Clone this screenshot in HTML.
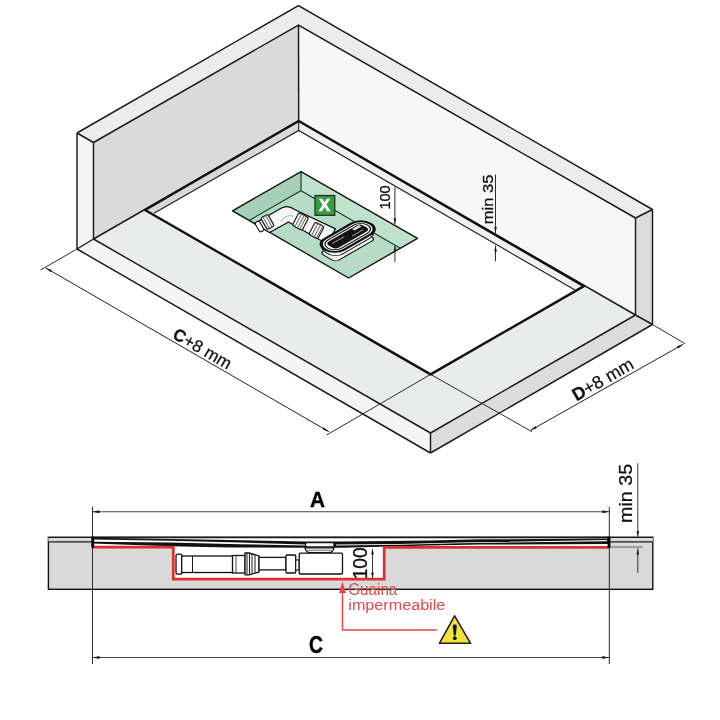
<!DOCTYPE html>
<html><head><meta charset="utf-8"><style>
html,body{margin:0;padding:0;background:#fff;}
svg{display:block;will-change:transform;}
text{font-family:"Liberation Sans",sans-serif;}
</style></head><body>
<svg width="720" height="720" viewBox="0 0 720 720">
<rect width="720" height="720" fill="#fff"/>
<polygon points="77.00,133.00 298.50,5.50 652.50,209.50 635.50,218.00 298.50,25.00 93.50,142.50" fill="#ececec" stroke="none" stroke-width="1" stroke-linejoin="round" />
<polygon points="93.50,142.50 298.50,25.00 298.70,121.00 93.50,239.00" fill="#dadada" stroke="none" stroke-width="1" stroke-linejoin="round" />
<polygon points="298.50,25.00 635.50,218.00 635.50,315.00 298.70,121.00" fill="#f7f7f7" stroke="none" stroke-width="1" stroke-linejoin="round" />
<polygon points="77.00,133.00 93.50,142.50 93.50,239.00 77.00,249.00" fill="#f5f5f5" stroke="none" stroke-width="1" stroke-linejoin="round" />
<polygon points="635.50,218.00 652.50,209.50 652.50,324.50 635.50,315.00" fill="#dcdcdc" stroke="none" stroke-width="1" stroke-linejoin="round" />
<polygon points="93.50,239.00 298.70,121.00 635.50,315.00 430.50,433.00" fill="#eaeceb" stroke="none" stroke-width="1" stroke-linejoin="round" />
<polygon points="77.00,249.00 93.50,239.00 430.50,433.00 430.50,453.00" fill="#f5f5f5" stroke="none" stroke-width="1" stroke-linejoin="round" />
<polygon points="635.50,315.00 652.50,324.50 430.50,453.00 430.50,433.00" fill="#dcdcdc" stroke="none" stroke-width="1" stroke-linejoin="round" />
<polyline points="77.00,133.00 298.50,5.50 652.50,209.50" fill="none" stroke="#1a1a1a" stroke-width="1.45" stroke-linejoin="miter" />
<polyline points="93.50,142.50 298.50,25.00 635.50,218.00" fill="none" stroke="#1a1a1a" stroke-width="1.45" stroke-linejoin="miter" />
<line x1="77.00" y1="133.00" x2="93.50" y2="142.50" stroke="#1a1a1a" stroke-width="1.45" />
<line x1="652.50" y1="209.50" x2="635.50" y2="218.00" stroke="#1a1a1a" stroke-width="1.45" />
<line x1="77.00" y1="133.00" x2="77.00" y2="249.00" stroke="#1a1a1a" stroke-width="1.45" />
<line x1="93.50" y1="142.50" x2="93.50" y2="239.00" stroke="#1a1a1a" stroke-width="1.45" />
<line x1="298.50" y1="25.00" x2="298.70" y2="121.00" stroke="#1a1a1a" stroke-width="1.45" />
<line x1="635.50" y1="218.00" x2="635.50" y2="315.00" stroke="#1a1a1a" stroke-width="1.45" />
<line x1="652.50" y1="209.50" x2="652.50" y2="324.50" stroke="#1a1a1a" stroke-width="1.45" />
<line x1="77.00" y1="249.00" x2="93.50" y2="239.00" stroke="#1a1a1a" stroke-width="1.45" />
<line x1="635.50" y1="315.00" x2="652.50" y2="324.50" stroke="#1a1a1a" stroke-width="1.45" />
<line x1="77.00" y1="249.00" x2="430.50" y2="453.00" stroke="#1a1a1a" stroke-width="1.45" />
<line x1="93.50" y1="239.00" x2="430.50" y2="433.00" stroke="#1a1a1a" stroke-width="1.45" />
<line x1="652.50" y1="324.50" x2="430.50" y2="453.00" stroke="#1a1a1a" stroke-width="1.45" />
<line x1="635.50" y1="315.00" x2="430.50" y2="433.00" stroke="#1a1a1a" stroke-width="1.45" />
<line x1="430.50" y1="433.00" x2="430.50" y2="453.00" stroke="#1a1a1a" stroke-width="1.45" />
<line x1="93.50" y1="239.00" x2="298.70" y2="121.00" stroke="#1a1a1a" stroke-width="1.45" />
<line x1="298.70" y1="121.00" x2="635.50" y2="315.00" stroke="#1a1a1a" stroke-width="1.45" />
<polygon points="145.00,210.00 298.70,121.00 583.90,286.10 430.60,374.40" fill="#ffffff" stroke="none" stroke-width="1" stroke-linejoin="round" />
<polygon points="145.00,210.00 298.70,121.00 298.70,130.50 154.00,213.30" fill="#d8d8d8" stroke="none" stroke-width="1" stroke-linejoin="round" />
<polygon points="298.70,121.00 583.90,286.10 575.00,290.00 298.70,130.50" fill="#f0f0f0" stroke="none" stroke-width="1" stroke-linejoin="round" />
<polyline points="154.00,213.30 298.70,130.50 575.00,290.00" fill="none" stroke="#1a1a1a" stroke-width="1.1" stroke-linejoin="miter" />
<line x1="298.70" y1="121.00" x2="298.70" y2="130.50" stroke="#1a1a1a" stroke-width="1.1" />
<polygon points="145.00,210.00 298.70,121.00 583.90,286.10 430.60,374.40" fill="none" stroke="#111" stroke-width="2.4" stroke-linejoin="round" />
<polygon points="249.30,220.40 301.00,190.70 400.30,248.30 348.60,278.00" fill="#b6dcc6" stroke="none" stroke-width="1" stroke-linejoin="round" />
<polygon points="232.50,210.80 301.00,171.70 301.00,190.70 249.30,220.40" fill="#a6d0b7" stroke="none" stroke-width="1" stroke-linejoin="round" />
<polygon points="301.00,171.70 417.50,238.30 400.30,248.30 301.00,190.70" fill="#bfe2cd" stroke="none" stroke-width="1" stroke-linejoin="round" />
<polyline points="249.30,220.40 301.00,190.70 400.30,248.30" fill="none" stroke="#1f3a2a" stroke-width="1.1" stroke-linejoin="miter" />
<line x1="301.00" y1="171.70" x2="301.00" y2="190.70" stroke="#3a6a4f" stroke-width="1.6" />
<polygon points="232.50,210.80 301.00,171.70 417.50,238.30 348.60,278.00" fill="none" stroke="#111" stroke-width="1.4" stroke-linejoin="round" />
<path d="M254.5,223.5 L281,208.3 Q288,204.6 294.5,209.5 L335.5,228.8 L327,244 L288.5,222 L269.5,232.5 Z" fill="#f6f6f6" stroke="#111" stroke-width="1.3" stroke-linejoin="round"/>
<path d="M281,221.5 Q286,214 293,216" fill="none" stroke="#999" stroke-width="0.8"/>
<g transform="translate(259.5,226.5) rotate(-29.87282104599585)"><rect x="-2.5" y="-5.5" width="5" height="11" rx="2" fill="#f8f8f8" stroke="#111" stroke-width="1.1"/></g>
<g transform="translate(267.5,222) rotate(-29.87282104599585)"><rect x="-4.0" y="-6.75" width="8" height="13.5" rx="2" fill="#f8f8f8" stroke="#111" stroke-width="1.1"/><line x1="-1.5" y1="-6.25" x2="-1.5" y2="6.25" stroke="#444" stroke-width="0.8"/><line x1="1.5" y1="-6.25" x2="1.5" y2="6.25" stroke="#444" stroke-width="0.8"/></g>
<g transform="translate(300.5,221.5) rotate(27.84662218283736)"><rect x="-5.5" y="-7.25" width="11" height="14.5" rx="2" fill="#f8f8f8" stroke="#111" stroke-width="1.1"/><line x1="-2.5" y1="-6.75" x2="-2.5" y2="6.75" stroke="#444" stroke-width="0.8"/><line x1="0.5" y1="-6.75" x2="0.5" y2="6.75" stroke="#444" stroke-width="0.8"/><line x1="3" y1="-6.75" x2="3" y2="6.75" stroke="#444" stroke-width="0.8"/></g>
<g transform="translate(316.5,230.5) rotate(27.84662218283736)"><rect x="-5.0" y="-7.0" width="10" height="14" rx="2" fill="#f8f8f8" stroke="#111" stroke-width="1.1"/><line x1="-2" y1="-6.5" x2="-2" y2="6.5" stroke="#444" stroke-width="0.8"/><line x1="1" y1="-6.5" x2="1" y2="6.5" stroke="#444" stroke-width="0.8"/><line x1="3.5" y1="-6.5" x2="3.5" y2="6.5" stroke="#444" stroke-width="0.8"/></g>
<g transform="translate(347.7,246) matrix(0.866,-0.5,0.866,0.5,0,0)">
<rect x="-23.0" y="-9.0" width="46" height="18" rx="4" fill="#f0f0f0" stroke="#111" stroke-width="1.3" />
</g>
<g transform="translate(347.7,241) matrix(0.866,-0.5,0.866,0.5,0,0)">
<rect x="-24.0" y="-10.0" width="48" height="20" rx="8" fill="#f6f6f6" stroke="#111" stroke-width="1.2" />
</g>
<g transform="translate(347.7,236.6) matrix(0.866,-0.5,0.866,0.5,0,0)">
<rect x="-26.0" y="-11.0" width="52" height="22" rx="11" fill="#f7f7f7" stroke="#111" stroke-width="2.7" />
<rect x="-23.0" y="-8.0" width="46" height="16" rx="8" fill="#fff" stroke="#111" stroke-width="1.1" />
<rect x="-20.0" y="-6.0" width="40" height="12" rx="4" fill="#141414" stroke="none" stroke-width="0" />
<line x1="-16" y1="-2" x2="-2" y2="-2" stroke="#bbb" stroke-width="0.8"/>
<line x1="3" y1="2" x2="16" y2="2" stroke="#bbb" stroke-width="0.8"/>
<rect x="10" y="-5" width="8" height="3" fill="#ddd"/>
</g>
<rect x="315" y="195.5" width="19.8" height="19.8" fill="#3a9a48" stroke="#14301a" stroke-width="1.2"/>
<text x="324.4" y="211" font-family="Liberation Sans" font-weight="bold" font-size="16.5" fill="#fff" stroke="#fff" stroke-width="0.6" text-anchor="middle">X</text>
<line x1="394.90" y1="187.20" x2="394.90" y2="224.20" stroke="#222" stroke-width="0.95" />
<polygon points="394.90,224.20 393.60,218.20 396.20,218.20" fill="#1a1a1a" stroke="none" stroke-width="1" stroke-linejoin="round" />
<line x1="394.90" y1="245.60" x2="394.90" y2="262.10" stroke="#222" stroke-width="0.95" />
<polygon points="394.90,245.60 396.20,251.60 393.60,251.60" fill="#1a1a1a" stroke="none" stroke-width="1" stroke-linejoin="round" />
<text transform="translate(390.4,209.6) rotate(-90)" font-family="Liberation Sans" font-size="15.5" fill="#111" stroke="#111" stroke-width="0.3" textLength="24.3" lengthAdjust="spacingAndGlyphs">100</text>
<line x1="495.50" y1="174.60" x2="495.50" y2="233.00" stroke="#222" stroke-width="0.95" />
<polygon points="495.50,233.00 494.20,227.00 496.80,227.00" fill="#1a1a1a" stroke="none" stroke-width="1" stroke-linejoin="round" />
<line x1="495.50" y1="245.60" x2="495.50" y2="261.20" stroke="#222" stroke-width="0.95" />
<polygon points="495.50,245.60 496.80,251.60 494.20,251.60" fill="#1a1a1a" stroke="none" stroke-width="1" stroke-linejoin="round" />
<text transform="translate(493.3,224.2) rotate(-90)" font-family="Liberation Sans" font-size="15" fill="#111" stroke="#111" stroke-width="0.3" textLength="49.6" lengthAdjust="spacingAndGlyphs">min 35</text>
<line x1="77.00" y1="249.00" x2="40.60" y2="270.00" stroke="#222" stroke-width="0.95" />
<line x1="430.60" y1="374.40" x2="326.70" y2="435.00" stroke="#222" stroke-width="0.95" />
<line x1="45.60" y1="267.80" x2="328.90" y2="431.70" stroke="#222" stroke-width="1.0" />
<polygon points="45.60,267.80 51.88,269.93 50.58,272.18" fill="#1a1a1a" stroke="none" stroke-width="1" stroke-linejoin="round" />
<polygon points="328.90,431.70 322.62,429.57 323.92,427.32" fill="#1a1a1a" stroke="none" stroke-width="1" stroke-linejoin="round" />
<text transform="translate(171.5,337.6) rotate(30)" font-family="Liberation Sans" font-size="17" fill="#111" stroke="#111" stroke-width="0.25"><tspan font-weight="bold">C</tspan>+8 mm</text>
<line x1="430.60" y1="374.40" x2="532.00" y2="431.70" stroke="#222" stroke-width="0.95" />
<line x1="652.50" y1="324.50" x2="685.00" y2="343.70" stroke="#222" stroke-width="0.95" />
<line x1="530.60" y1="430.30" x2="683.30" y2="344.20" stroke="#222" stroke-width="1.0" />
<polygon points="530.60,430.30 535.62,425.98 536.90,428.24" fill="#1a1a1a" stroke="none" stroke-width="1" stroke-linejoin="round" />
<polygon points="683.30,344.20 678.28,348.52 677.00,346.26" fill="#1a1a1a" stroke="none" stroke-width="1" stroke-linejoin="round" />
<text transform="translate(576.5,401.5) rotate(-30)" font-family="Liberation Sans" font-size="17.8" fill="#111" stroke="#111" stroke-width="0.25"><tspan font-weight="bold">D</tspan>+8 mm</text>
<rect x="48.4" y="537.4" width="604.4" height="51.89999999999998" fill="#d9d9d9" stroke="#111" stroke-width="1.4"/>
<polygon points="48.40,537.40 92.50,537.40 92.50,542.00 48.40,542.00" fill="#dadada" stroke="none" stroke-width="1" stroke-linejoin="round" />
<polygon points="609.30,537.40 652.80,537.40 652.80,542.00 609.30,542.00" fill="#dadada" stroke="none" stroke-width="1" stroke-linejoin="round" />
<line x1="48.40" y1="541.80" x2="92.50" y2="541.80" stroke="#1a1a1a" stroke-width="1.3" />
<line x1="609.30" y1="541.80" x2="652.80" y2="541.80" stroke="#1a1a1a" stroke-width="1.3" />
<line x1="48.40" y1="537.40" x2="652.80" y2="537.40" stroke="#1a1a1a" stroke-width="1.4" />
<polygon points="92.50,537.00 609.30,537.00 609.30,547.30 384.20,547.30 384.20,579.20 173.30,579.20 173.30,547.20 92.50,547.20" fill="#ffffff" stroke="none" stroke-width="1" stroke-linejoin="round" />
<line x1="92.50" y1="537.50" x2="609.30" y2="537.50" stroke="#1a1a1a" stroke-width="1.3" />
<polygon points="92.50,537.80 170.00,539.00 230.00,540.00 305.00,541.50 342.00,541.50 430.00,540.40 480.00,539.30 609.30,538.60 609.30,544.00 480.00,544.60 430.00,545.40 342.00,547.80 305.00,547.80 230.00,547.50 170.00,546.20 92.50,543.40" fill="#111" stroke="none" stroke-width="1" stroke-linejoin="round" />
<polygon points="94.00,539.40 170.00,540.80 240.00,542.60 305.00,544.50 305.00,545.50 240.00,544.20 170.00,542.60 94.00,541.70" fill="#fff" stroke="none" stroke-width="1" stroke-linejoin="round" />
<polygon points="336.00,544.50 400.00,543.90 460.00,542.50 607.00,540.10 607.00,541.20 460.00,543.30 400.00,544.70 336.00,545.50" fill="#fff" stroke="none" stroke-width="1" stroke-linejoin="round" />
<rect x="91.5" y="536.8" width="2.4" height="10.5" fill="#111"/>
<rect x="607.8" y="536.8" width="2.4" height="10.8" fill="#111"/>
<rect x="306" y="543.3" width="27.5" height="3" rx="1.2" fill="#fff"/>
<path d="M305,547.8 Q306,552.6 310,552.6 L329,552.6 Q333,552.6 334,547.8 Z" fill="#f4f4f4" stroke="#111" stroke-width="1.2"/>
<line x1="307.50" y1="550.30" x2="331.50" y2="550.30" stroke="#555" stroke-width="0.8" />
<polyline points="93.00,547.20 173.30,547.20 173.30,579.20 384.20,579.20 384.20,547.30 609.30,547.30" fill="none" stroke="#d83330" stroke-width="2.8" stroke-linejoin="miter" />
<rect x="176" y="554.2" width="6" height="20" rx="2" fill="#fff" stroke="#111" stroke-width="1.3"/>
<rect x="181.7" y="556" width="51" height="16.5" fill="#fff" stroke="#111" stroke-width="1.3"/>
<line x1="192.50" y1="556.00" x2="192.50" y2="572.50" stroke="#1a1a1a" stroke-width="1" />
<rect x="232.5" y="555.5" width="12.5" height="17.5" fill="#fff" stroke="#111" stroke-width="1.3"/>
<line x1="236.00" y1="555.50" x2="236.00" y2="573.00" stroke="#1a1a1a" stroke-width="0.8" />
<path d="M245,553 L249,553 L259,555.8 L259,572 L249,574.8 L245,574.8 Z" fill="#fff" stroke="#111" stroke-width="1.3" stroke-linejoin="round"/>
<line x1="247.00" y1="553.30" x2="247.00" y2="574.50" stroke="#1a1a1a" stroke-width="1.0" />
<line x1="249.50" y1="553.50" x2="249.50" y2="574.30" stroke="#1a1a1a" stroke-width="1.0" />
<line x1="252.00" y1="554.20" x2="252.00" y2="573.60" stroke="#1a1a1a" stroke-width="1.0" />
<line x1="255.00" y1="555.00" x2="255.00" y2="572.80" stroke="#1a1a1a" stroke-width="1.0" />
<rect x="259" y="557.4" width="27" height="12.5" fill="#fff" stroke="#111" stroke-width="1.3"/>
<rect x="286" y="555" width="9.7" height="18" rx="1" fill="#fff" stroke="#111" stroke-width="1.3"/>
<rect x="295.7" y="560" width="3.5" height="10" fill="#fff" stroke="#111" stroke-width="1.1"/>
<rect x="299.2" y="553.2" width="43.3" height="20.8" rx="1" fill="#fff" stroke="#111" stroke-width="1.3"/>
<line x1="372.50" y1="549.00" x2="372.50" y2="578.00" stroke="#222" stroke-width="0.9" />
<polygon points="372.50,548.50 373.80,554.50 371.20,554.50" fill="#1a1a1a" stroke="none" stroke-width="1" stroke-linejoin="round" />
<polygon points="372.50,578.50 371.20,572.50 373.80,572.50" fill="#1a1a1a" stroke="none" stroke-width="1" stroke-linejoin="round" />
<text transform="translate(367,579.3) rotate(-90)" font-family="Liberation Sans" font-size="20" fill="#111" stroke="#111" stroke-width="0.3" textLength="32" lengthAdjust="spacingAndGlyphs">100</text>
<line x1="609.30" y1="547.00" x2="642.60" y2="547.00" stroke="#555" stroke-width="0.9" />
<line x1="637.80" y1="463.20" x2="637.80" y2="536.80" stroke="#222" stroke-width="0.9" />
<polygon points="637.80,537.00 636.50,531.00 639.10,531.00" fill="#1a1a1a" stroke="none" stroke-width="1" stroke-linejoin="round" />
<line x1="637.80" y1="548.50" x2="637.80" y2="572.80" stroke="#222" stroke-width="0.9" />
<polygon points="637.80,548.50 639.10,554.50 636.50,554.50" fill="#1a1a1a" stroke="none" stroke-width="1" stroke-linejoin="round" />
<text transform="translate(632,522.9) rotate(-90)" font-family="Liberation Sans" font-size="18.5" fill="#111" stroke="#111" stroke-width="0.3" textLength="59" lengthAdjust="spacingAndGlyphs">min 35</text>
<line x1="92.50" y1="506.70" x2="92.50" y2="664.00" stroke="#222" stroke-width="0.95" />
<line x1="609.30" y1="507.00" x2="609.30" y2="664.00" stroke="#222" stroke-width="0.95" />
<line x1="92.50" y1="511.80" x2="609.30" y2="511.80" stroke="#444" stroke-width="1.1" />
<polygon points="92.50,511.80 99.50,510.30 99.50,513.30" fill="#1a1a1a" stroke="none" stroke-width="1" stroke-linejoin="round" />
<polygon points="609.30,511.80 602.30,513.30 602.30,510.30" fill="#1a1a1a" stroke="none" stroke-width="1" stroke-linejoin="round" />
<line x1="92.50" y1="657.50" x2="609.30" y2="657.50" stroke="#444" stroke-width="1.1" />
<polygon points="92.50,657.50 99.50,656.00 99.50,659.00" fill="#1a1a1a" stroke="none" stroke-width="1" stroke-linejoin="round" />
<polygon points="609.30,657.50 602.30,659.00 602.30,656.00" fill="#1a1a1a" stroke="none" stroke-width="1" stroke-linejoin="round" />
<text x="310" y="506.8" font-family="Liberation Sans" font-weight="bold" font-size="22" fill="#000" stroke="#000" stroke-width="0.4" textLength="15" lengthAdjust="spacingAndGlyphs">A</text>
<text x="309" y="652.9" font-family="Liberation Sans" font-weight="bold" font-size="23" fill="#000" stroke="#000" stroke-width="0.4" textLength="14" lengthAdjust="spacingAndGlyphs">C</text>
<rect x="91.6" y="536.8" width="2.6" height="11" fill="#000"/>
<rect x="607.7" y="536.8" width="2.6" height="11" fill="#000"/>
<polyline points="342.50,592.00 342.50,630.00 437.00,630.00" fill="none" stroke="#e04a48" stroke-width="1.5" stroke-linejoin="miter" />
<polygon points="342.50,581.30 339.00,593.00 346.00,593.00" fill="#e04a48" stroke="none" stroke-width="1" stroke-linejoin="round" />
<text x="348.3" y="594.7" font-family="Liberation Sans" font-size="16" fill="#e04a48" textLength="49" lengthAdjust="spacingAndGlyphs">Guaina</text>
<text x="348.3" y="610.3" font-family="Liberation Sans" font-size="15.5" fill="#e04a48" textLength="97" lengthAdjust="spacingAndGlyphs">impermeabile</text>
<polygon points="454.60,615.80 439.40,643.30 470.60,643.30" fill="#f2e33a" stroke="#222" stroke-width="1.6" stroke-linejoin="round" />
<path d="M452.8,626 Q452.8,624.6 454.8,624.6 Q456.8,624.6 456.8,626 L455.8,635.6 L453.8,635.6 Z" fill="#111"/>
<circle cx="454.8" cy="638.2" r="1.9" fill="#111"/>
</svg></body></html>
